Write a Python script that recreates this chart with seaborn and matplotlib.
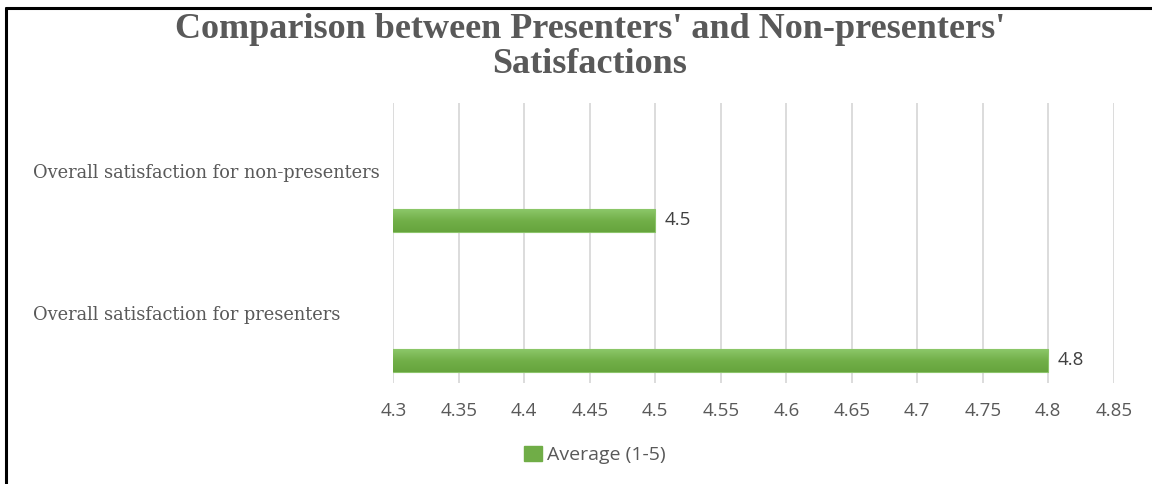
import matplotlib
matplotlib.use("Agg")
import matplotlib.pyplot as plt
import matplotlib.transforms as mtransforms
from matplotlib.lines import Line2D
from matplotlib.patches import Patch
from matplotlib.colors import LinearSegmentedColormap
import numpy as np
import pandas as pd
import seaborn as sns

# ---- data ----
categories = ["Overall satisfaction for non-presenters", "Overall satisfaction for presenters"]
values = [4.5, 4.8]
series_name = "Average (1-5)"
x_ticks = [4.3, 4.35, 4.4, 4.45, 4.5, 4.55, 4.6, 4.65, 4.7, 4.75, 4.8, 4.85]
x_tick_labels = ["4.3", "4.35", "4.4", "4.45", "4.5", "4.55", "4.6", "4.65", "4.7", "4.75", "4.8", "4.85"]
title = "Comparison between Presenters' and Non-presenters'\nSatisfactions"

sns.set_theme(style="white")
plt.rcParams['font.family'] = ['Open Sans', 'DejaVu Sans']

W, H = 1152, 484
fig = plt.figure(figsize=(W / 100, H / 100), dpi=100)
fig.patch.set_facecolor("white")

XMIN, XMAX = 4.3, 4.85
YLO, YHI = 1.161, -0.839

# axes area (pixels): x 393.3 -> 1113.8, y 103 -> 383
left, right, top, bottom = 393.3, 1113.8, 103, 383
ax = fig.add_axes([left / W, 1 - bottom / H, (right - left) / W, (bottom - top) / H])

df = pd.DataFrame({"category": categories, "value": values, "series": series_name})
sns.barplot(data=df, x="value", y="category", order=categories, orient="h",
            color="#70AD47", width=0.164, ax=ax, saturation=1,
            edgecolor="#8cc46a", linewidth=0.8)

ax.set_xlim(XMIN, XMAX)
ax.set_ylim(YLO, YHI)

# gradient overlay on bars (kept inside the axes range)
cmap = LinearSegmentedColormap.from_list("g", ["#8cc769", "#72af49", "#66a43d"])
grad = np.linspace(0, 1, 64).reshape(-1, 1)
for p in list(ax.patches):
    bb = p.get_bbox()
    x0 = max(bb.x0, XMIN)
    im = ax.imshow(grad, cmap=cmap, aspect="auto",
                   extent=[x0, bb.x1, max(bb.y0, bb.y1), min(bb.y0, bb.y1)],
                   origin="upper", zorder=p.get_zorder() + 0.1, interpolation="bilinear")
    im.set_clip_path(p)
ax.set_xlim(XMIN, XMAX)
ax.set_ylim(YLO, YHI)

ax.set_xticks(x_ticks)
ax.set_xticklabels(x_tick_labels, fontsize=13.5, color="#595959")
ax.set_yticks([])
ax.set_xlabel("")
ax.set_ylabel("")
ax.tick_params(axis="x", length=0, pad=14)
ax.xaxis.grid(True, color="#d9d9d9", linewidth=1.3)
ax.set_axisbelow(True)
for s in ax.spines.values():
    s.set_visible(False)

# data labels
for i, v in enumerate(values):
    ax.annotate(f"{v:g}", xy=(v, i), xytext=(7, 0), textcoords="offset points",
                ha="left", va="center", fontsize=13.5, color="#404040")

# category labels (placed above bars, left aligned)
trans = mtransforms.blended_transform_factory(fig.transFigure, ax.transData)
label_y = [-0.339, 0.675]
for cat, yy in zip(categories, label_y):
    ax.text(33 / W, yy, cat, transform=trans, ha="left", va="center",
            fontsize=12.8, color="#595959", family=["DejaVu Serif"])

# title
fig.text(590 / W, 1 - 47 / H, title, ha="center", va="center", fontsize=26,
         fontweight="bold", color="#595959", family=["Liberation Serif"], linespacing=1.1)

# legend
handles = [Patch(facecolor="#70AD47", edgecolor="#70AD47", label=series_name)]
leg = fig.legend(handles=handles, loc="center", bbox_to_anchor=(595 / W, 1 - 455 / H),
                 frameon=False, fontsize=14, handlelength=0.9, handleheight=0.8,
                 handletextpad=0.3)
for t in leg.get_texts():
    t.set_color("#595959")

# border (left and top)
fig.add_artist(Line2D([6 / W, 6 / W], [0, 1 - 8 / H], transform=fig.transFigure,
                      color="black", linewidth=2.2))
fig.add_artist(Line2D([6 / W, 1], [1 - 8 / H, 1 - 8 / H], transform=fig.transFigure,
                      color="black", linewidth=2.2))

fig.savefig("out.png", dpi=100, facecolor="white")
